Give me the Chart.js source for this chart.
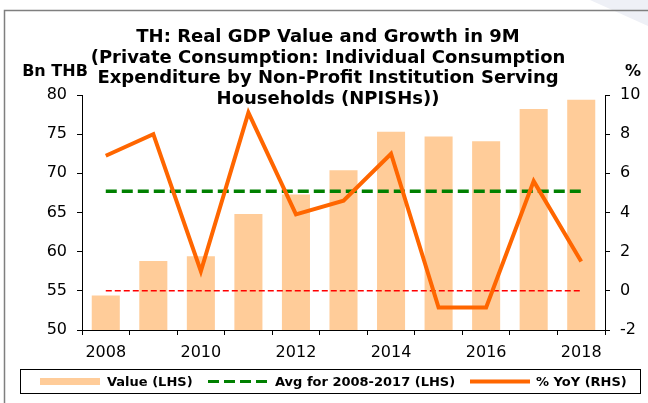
<!DOCTYPE html>
<html lang="en">
<head>
<meta charset="UTF-8">
<title>TH: Real GDP Value and Growth in 9M</title>
<script src="https://cdn.jsdelivr.net/npm/chart.js"></script>
<style>
  html, body { margin: 0; padding: 0; background: #fff; }
  #wrap { width: 648px; height: 403px; }
</style>
</head>
<body>
<div id="wrap"><canvas id="npish-chart" width="648" height="403"></canvas></div>
<script>
// 9M real GDP, NPISH consumption expenditure
const years = ['2008', '2009', '2010', '2011', '2012', '2013', '2014', '2015', '2016', '2017', '2018'];
const valueBn = [54.4, 58.8, 59.4, 64.8, 67.3, 70.4, 75.3, 74.7, 74.1, 78.2, 79.4];
const yoyPct = [6.9, 8.0, 1.0, 9.1, 3.9, 4.6, 7.0, -0.85, -0.85, 5.6, 1.5];
const avg0817 = 67.7;
const zeroRef = [0, 0, 0, 0, 0, 0, 0, 0, 0, 0, 0];

const leftTicks = { min: 50, max: 80, step: 5 };
const rightTicks = { min: -2, max: 10, step: 2 };

const titleLines = [
  'TH: Real GDP Value and Growth in 9M',
  '(Private Consumption: Individual Consumption',
  'Expenditure by Non-Profit Institution Serving',
  'Households (NPISHs))'
];
const legendNames = ['Value (LHS)', 'Avg for 2008-2017 (LHS)', '% YoY (RHS)'];

const FONT = '"DejaVu Sans", "Liberation Sans", Arial, sans-serif';
const BAR_COLOR = '#FFCC99';
const AVG_COLOR = '#008000';
const YOY_COLOR = '#FF6600';

// frame, title, axis captions and legend box
const decorations = {
  id: 'decorations',
  beforeDraw(chart) {
    const ctx = chart.ctx;
    ctx.save();
    ctx.fillStyle = '#fff';
    ctx.fillRect(0, 0, chart.width, chart.height);
    // faint slide corner
    ctx.fillStyle = '#EEF0F6';
    ctx.beginPath();
    ctx.moveTo(590, 0);
    ctx.lineTo(648, 0);
    ctx.lineTo(648, 26);
    ctx.closePath();
    ctx.fill();
    ctx.restore();
  },
  afterDraw(chart) {
    const ctx = chart.ctx;
    ctx.save();

    // outer frame
    ctx.strokeStyle = '#7f7f7f';
    ctx.lineWidth = 1.5;
    ctx.beginPath();
    ctx.moveTo(4.5, chart.height);
    ctx.lineTo(4.5, 10.5);
    ctx.lineTo(chart.width, 10.5);
    ctx.stroke();

    // title
    ctx.fillStyle = '#000';
    ctx.textAlign = 'center';
    ctx.textBaseline = 'alphabetic';
    ctx.font = 'bold 18px ' + FONT;
    titleLines.forEach((t, i) => ctx.fillText(t, 328, 42 + i * 20.7));

    // axis captions
    ctx.font = 'bold 16px ' + FONT;
    ctx.fillText('Bn THB', 55, 76);
    ctx.fillText('%', 633, 76);

    // legend
    ctx.strokeStyle = '#000';
    ctx.lineWidth = 1;
    ctx.strokeRect(20.5, 369.5, 620, 24);
    const cy = 381.5;
    ctx.fillStyle = BAR_COLOR;
    ctx.fillRect(40, cy - 3.5, 60, 7);

    ctx.strokeStyle = AVG_COLOR;
    ctx.lineWidth = 3;
    ctx.setLineDash([11, 5]);
    ctx.beginPath();
    ctx.moveTo(208, cy);
    ctx.lineTo(270, cy);
    ctx.stroke();

    ctx.strokeStyle = YOY_COLOR;
    ctx.lineWidth = 4;
    ctx.setLineDash([]);
    ctx.beginPath();
    ctx.moveTo(470, cy);
    ctx.lineTo(530, cy);
    ctx.stroke();

    ctx.fillStyle = '#000';
    ctx.textAlign = 'left';
    ctx.font = 'bold 13px ' + FONT;
    ctx.fillText(legendNames[0], 107, 386);
    ctx.fillText(legendNames[1], 275, 386);
    ctx.fillText(legendNames[2], 536, 386);
    ctx.restore();
  }
};

const axisLine = { display: true, color: '#000', width: 1 };
const tickOnly = { drawOnChartArea: false, color: '#000', tickLength: 5, tickWidth: 1 };
const tickFont = { family: FONT, size: 16 };

new Chart(document.getElementById('npish-chart'), {
  data: {
    labels: years,
    datasets: [
      {
        type: 'line',
        label: legendNames[2],
        data: yoyPct,
        yAxisID: 'y1',
        borderColor: YOY_COLOR,
        borderWidth: 4,
        pointRadius: 0,
        tension: 0,
        order: 0
      },
      {
        type: 'line',
        label: 'zero',
        data: zeroRef,
        yAxisID: 'y1',
        borderColor: '#FF0000',
        borderWidth: 1.5,
        borderDash: [6, 3],
        pointRadius: 0,
        order: 1
      },
      {
        type: 'line',
        label: legendNames[1],
        data: years.map(() => avg0817),
        yAxisID: 'y',
        borderColor: AVG_COLOR,
        borderWidth: 3.5,
        borderDash: [11, 5],
        pointRadius: 0,
        order: 2
      },
      {
        type: 'bar',
        label: legendNames[0],
        data: valueBn,
        yAxisID: 'y',
        backgroundColor: BAR_COLOR,
        categoryPercentage: 1,
        barPercentage: 0.59,
        order: 3
      }
    ]
  },
  options: {
    responsive: false,
    animation: false,
    devicePixelRatio: 1,
    layout: { padding: { top: 95, bottom: 43, left: 0, right: 0 } },
    plugins: {
      legend: { display: false },
      title: { display: false },
      tooltip: { enabled: false }
    },
    scales: {
      x: {
        type: 'category',
        offset: true,
        border: axisLine,
        grid: Object.assign({ offset: true }, tickOnly),
        ticks: {
          autoSkip: false,
          maxRotation: 0,
          padding: 8,
          color: '#000',
          font: tickFont,
          callback: (v, i) => (i % 2 === 0 ? years[i] : '')
        },
        afterFit: (s) => { s.height = 30; }
      },
      y: {
        position: 'left',
        min: leftTicks.min,
        max: leftTicks.max,
        border: axisLine,
        grid: tickOnly,
        ticks: { stepSize: leftTicks.step, padding: 10, color: '#000', font: tickFont },
        afterFit: (s) => { s.width = 82; }
      },
      y1: {
        position: 'right',
        min: rightTicks.min,
        max: rightTicks.max,
        border: axisLine,
        grid: tickOnly,
        ticks: { stepSize: rightTicks.step, padding: 10, color: '#000', font: tickFont },
        afterFit: (s) => { s.width = 43; }
      }
    }
  },
  plugins: [decorations]
});
</script>
</body>
</html>
